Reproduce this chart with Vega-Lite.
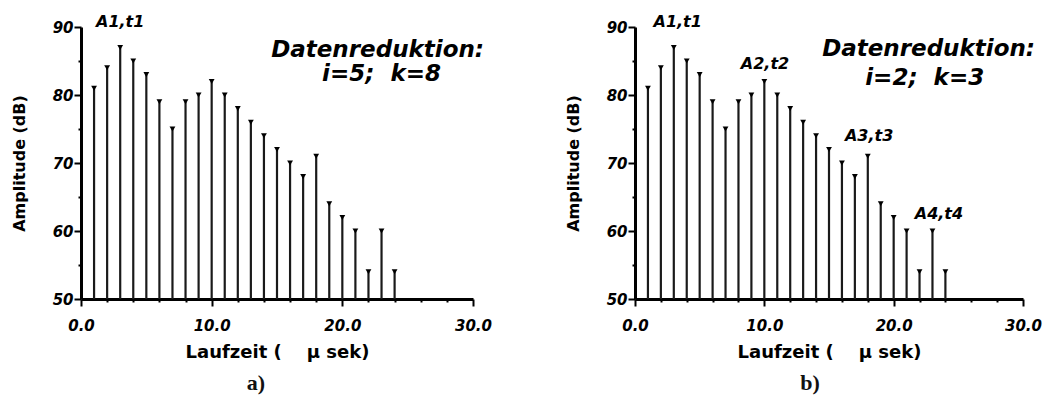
{
  "$schema": "https://vega.github.io/schema/vega-lite/v6.json",
  "background": "white",
  "padding": {"left": 11, "top": 14, "right": 5, "bottom": 5},
  "bounds": "flush",
  "spacing": 162,
  "config": {
    "view": {"stroke": null},
    "font": "DejaVu Sans",
    "axisX": {
      "values": [0, 5, 10, 15, 20, 25, 30],
      "labelExpr": "datum.value % 10 === 0 ? format(datum.value, '.1f') : ''",
      "grid": false,
      "domainColor": "#000",
      "domainWidth": 3,
      "tickColor": "#000",
      "tickWidth": 2,
      "tickSize": {"condition": {"test": "datum.value % 10 === 0", "value": 7}, "value": 3},
      "labelFont": "DejaVu Sans",
      "labelFontStyle": "italic",
      "labelFontWeight": "bold",
      "labelFontSize": 15,
      "labelColor": "#000",
      "labelPadding": 12,
      "labelFlush": false,
      "titleFont": "DejaVu Sans",
      "titleFontWeight": "bold",
      "titleFontSize": 18,
      "titleColor": "#000",
      "titlePadding": 10
    },
    "axisY": {
      "values": [50, 55, 60, 65, 70, 75, 80, 85, 90],
      "labelExpr": "datum.value % 10 === 0 ? format(datum.value, '.0f') : ''",
      "grid": false,
      "domainColor": "#000",
      "domainWidth": 3,
      "tickColor": "#000",
      "tickWidth": 2,
      "tickSize": {"condition": {"test": "datum.value % 10 === 0", "value": 7}, "value": 3},
      "labelFont": "DejaVu Sans",
      "labelFontStyle": "italic",
      "labelFontWeight": "bold",
      "labelFontSize": 15,
      "labelColor": "#000",
      "labelPadding": 1,
      "labelFlush": false,
      "titleFont": "DejaVu Sans",
      "titleFontWeight": "bold",
      "titleFontSize": 16,
      "titleColor": "#000",
      "titlePadding": 25
    }
  },
  "datasets": {
    "peaks": [
      {"t": 1, "amp": 81}, {"t": 2, "amp": 84}, {"t": 3, "amp": 87}, {"t": 4, "amp": 85},
      {"t": 5, "amp": 83}, {"t": 6, "amp": 79}, {"t": 7, "amp": 75}, {"t": 8, "amp": 79},
      {"t": 9, "amp": 80}, {"t": 10, "amp": 82}, {"t": 11, "amp": 80}, {"t": 12, "amp": 78},
      {"t": 13, "amp": 76}, {"t": 14, "amp": 74}, {"t": 15, "amp": 72}, {"t": 16, "amp": 70},
      {"t": 17, "amp": 68}, {"t": 18, "amp": 71}, {"t": 19, "amp": 64}, {"t": 20, "amp": 62},
      {"t": 21, "amp": 60}, {"t": 22, "amp": 54}, {"t": 23, "amp": 60}, {"t": 24, "amp": 54}
    ],
    "notesA": [
      {"t": 3.0, "v": 90, "txt": "A1,t1", "kind": "peak"},
      {"t": 22.7, "v": 85.6, "txt": "Datenreduktion:", "kind": "head"},
      {"t": 23.0, "v": 82.0, "txt": "i=5;\u00a0\u00a0k=8", "kind": "head"}
    ],
    "notesB": [
      {"t": 3.3, "v": 90, "txt": "A1,t1", "kind": "peak"},
      {"t": 10.05, "v": 83.8, "txt": "A2,t2", "kind": "peak"},
      {"t": 18.1, "v": 73.2, "txt": "A3,t3", "kind": "peak"},
      {"t": 23.5, "v": 61.8, "txt": "A4,t4", "kind": "peak"},
      {"t": 22.7, "v": 85.8, "txt": "Datenreduktion:", "kind": "head"},
      {"t": 22.4, "v": 81.4, "txt": "i=2;\u00a0\u00a0k=3", "kind": "head"}
    ]
  },
  "hconcat": [
    {
      "width": 392,
      "height": 272,
      "title": {"text": "a)", "orient": "bottom", "font": "Liberation Serif", "fontSize": 22, "fontWeight": "bold", "color": "#111", "offset": 12, "dx": -21},
      "layer": [
        {
          "data": {"name": "peaks"},
          "mark": {"type": "rule", "color": "#1a1a1a", "strokeWidth": 2.2},
          "encoding": {
            "x": {"field": "t", "type": "quantitative", "scale": {"domain": [0, 30]}, "title": "Laufzeit (\u00a0\u00a0\u00a0\u00a0µ sek)"},
            "y": {"field": "amp", "type": "quantitative", "scale": {"domain": [50, 90]}, "title": "Amplitude (dB)"},
            "y2": {"datum": 50}
          }
        },
        {
          "data": {"name": "peaks"},
          "mark": {"type": "point", "shape": "triangle-down", "filled": true, "color": "#000", "size": 34, "opacity": 1},
          "encoding": {
            "x": {"field": "t", "type": "quantitative"},
            "y": {"field": "amp", "type": "quantitative"}
          }
        },
        {
          "data": {"name": "notesA"},
          "transform": [{"filter": "datum.kind === 'peak'"}],
          "mark": {"type": "text", "font": "DejaVu Sans", "fontSize": 16, "fontWeight": "bold", "fontStyle": "italic", "align": "center", "baseline": "alphabetic", "color": "#000"},
          "encoding": {
            "x": {"field": "t", "type": "quantitative"},
            "y": {"field": "v", "type": "quantitative"},
            "text": {"field": "txt"}
          }
        },
        {
          "data": {"name": "notesA"},
          "transform": [{"filter": "datum.kind === 'head'"}],
          "mark": {"type": "text", "font": "DejaVu Sans", "fontSize": 23, "fontWeight": "bold", "fontStyle": "italic", "align": "center", "baseline": "alphabetic", "color": "#000"},
          "encoding": {
            "x": {"field": "t", "type": "quantitative"},
            "y": {"field": "v", "type": "quantitative"},
            "text": {"field": "txt"}
          }
        }
      ]
    },
    {
      "width": 388,
      "height": 272,
      "title": {"text": "b)", "orient": "bottom", "font": "Liberation Serif", "fontSize": 22, "fontWeight": "bold", "color": "#111", "offset": 12, "dx": -19},
      "layer": [
        {
          "data": {"name": "peaks"},
          "mark": {"type": "rule", "color": "#1a1a1a", "strokeWidth": 2.2},
          "encoding": {
            "x": {"field": "t", "type": "quantitative", "scale": {"domain": [0, 30]}, "title": "Laufzeit (\u00a0\u00a0\u00a0\u00a0µ sek)"},
            "y": {"field": "amp", "type": "quantitative", "scale": {"domain": [50, 90]}, "title": "Amplitude (dB)"},
            "y2": {"datum": 50}
          }
        },
        {
          "data": {"name": "peaks"},
          "mark": {"type": "point", "shape": "triangle-down", "filled": true, "color": "#000", "size": 34, "opacity": 1},
          "encoding": {
            "x": {"field": "t", "type": "quantitative"},
            "y": {"field": "amp", "type": "quantitative"}
          }
        },
        {
          "data": {"name": "notesB"},
          "transform": [{"filter": "datum.kind === 'peak'"}],
          "mark": {"type": "text", "font": "DejaVu Sans", "fontSize": 16, "fontWeight": "bold", "fontStyle": "italic", "align": "center", "baseline": "alphabetic", "color": "#000"},
          "encoding": {
            "x": {"field": "t", "type": "quantitative"},
            "y": {"field": "v", "type": "quantitative"},
            "text": {"field": "txt"}
          }
        },
        {
          "data": {"name": "notesB"},
          "transform": [{"filter": "datum.kind === 'head'"}],
          "mark": {"type": "text", "font": "DejaVu Sans", "fontSize": 23, "fontWeight": "bold", "fontStyle": "italic", "align": "center", "baseline": "alphabetic", "color": "#000"},
          "encoding": {
            "x": {"field": "t", "type": "quantitative"},
            "y": {"field": "v", "type": "quantitative"},
            "text": {"field": "txt"}
          }
        }
      ]
    }
  ]
}
